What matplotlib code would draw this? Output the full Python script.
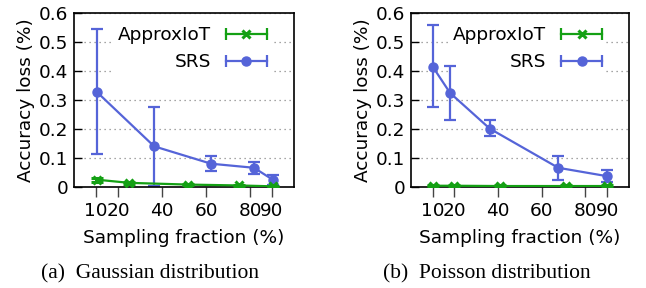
import matplotlib
matplotlib.use("Agg")
import matplotlib.pyplot as plt
from matplotlib.lines import Line2D
from matplotlib.legend_handler import HandlerBase

# Gaussian distribution (left)
gauss_srs_x = [10.3, 36.4, 62.3, 81.8, 90.3]
gauss_srs_y = [0.328, 0.140, 0.080, 0.066, 0.025]
gauss_srs_lo = [0.112, 0.002, 0.054, 0.046, 0.008]
gauss_srs_hi = [0.543, 0.276, 0.108, 0.085, 0.040]

gauss_aiot_x = [10.3, 25.1, 52.0, 75.0, 90.5]
gauss_aiot_y = [0.025, 0.014, 0.008, 0.005, 0.002]
gauss_aiot_lo = [0.018, 0.010, 0.005, 0.003, 0.000]
gauss_aiot_hi = [0.032, 0.018, 0.011, 0.007, 0.004]

# Poisson distribution (right)
pois_srs_x = [10.0, 18.0, 36.2, 67.6, 90.0]
pois_srs_y = [0.415, 0.324, 0.201, 0.066, 0.037]
pois_srs_lo = [0.275, 0.232, 0.175, 0.023, 0.017]
pois_srs_hi = [0.557, 0.416, 0.230, 0.106, 0.057]

pois_aiot_x = [10.0, 20.0, 41.0, 71.0, 89.8]
pois_aiot_y = [0.004, 0.004, 0.003, 0.003, 0.003]
pois_aiot_lo = [0.002, 0.002, 0.001, 0.001, 0.001]
pois_aiot_hi = [0.006, 0.006, 0.005, 0.005, 0.005]

x_ticks = [10, 20, 40, 60, 80, 90]
y_ticks = [0, 0.1, 0.2, 0.3, 0.4, 0.5, 0.6]
captions = ["(a)  Gaussian distribution", "(b)  Poisson distribution"]

GREEN = "#14a014"
BLUE = "#5564d8"
FS = 13.3


class HandlerXErr(HandlerBase):
    """gnuplot-style key: horizontal bar with end caps and a marker."""
    def create_artists(self, legend, orig, xdescent, ydescent, width, height,
                       fontsize, trans):
        y = height / 2 - ydescent
        x0, x1 = -xdescent, width - xdescent
        c = orig.get_color()
        bar = Line2D([x0, x1], [y, y], color=c, lw=1.6)
        caps = Line2D([x0, x1], [y, y], ls="none", marker="|", ms=9, mew=1.6, color=c)
        mark = Line2D([(x0 + x1) / 2], [y], ls="none", marker=orig.get_marker(),
                      ms=orig.get_markersize(), mew=orig.get_markeredgewidth(), color=c)
        for a in (bar, caps, mark):
            a.set_transform(trans)
        return [bar, caps, mark]


def err(y, lo, hi):
    return [[v - l for v, l in zip(y, lo)], [h - v for v, h in zip(y, hi)]]


def draw_panel(ax, srs, aiot):
    ax.errorbar(aiot[0], aiot[1], yerr=err(*aiot[1:]), color=GREEN, lw=1.6,
                marker="x", ms=6, mew=2.2, capsize=4, elinewidth=1.6, capthick=1.6,
                zorder=3)
    ax.errorbar(srs[0], srs[1], yerr=err(*srs[1:]), color=BLUE, lw=1.6,
                marker="o", ms=6.5, capsize=4.5, elinewidth=1.6, capthick=1.6,
                zorder=2)
    ax.set_xlim(0, 100)
    ax.set_ylim(0, 0.6)
    ax.set_xticks(x_ticks)
    ax.set_yticks(y_ticks)
    ax.set_yticklabels(["0", "0.1", "0.2", "0.3", "0.4", "0.5", "0.6"])
    ax.tick_params(axis="x", direction="out", length=7, width=1, color="#444444",
                   labelsize=FS, pad=4)
    ax.tick_params(axis="y", direction="in", length=6, width=1, labelsize=FS, pad=4)
    ax.yaxis.grid(True, linestyle=(0, (1, 3)), color="#888888", lw=0.9)
    ax.set_axisbelow(True)
    for s in ax.spines.values():
        s.set_linewidth(1.2)
    ax.set_xlabel("Sampling fraction (%)", fontsize=FS, labelpad=6)
    ax.set_ylabel("Accuracy loss (%)", fontsize=FS, labelpad=3)

    proxies = [Line2D([], [], color=GREEN, marker="x", ms=6, mew=2.2),
               Line2D([], [], color=BLUE, marker="o", ms=6.5, mew=1)]
    leg = ax.legend(proxies, ["ApproxIoT", "SRS"], loc="upper right",
                    bbox_to_anchor=(0.895, 0.945), markerfirst=False, frameon=True,
                    fontsize=FS, handlelength=2.25, handletextpad=0.8,
                    labelspacing=0.48, borderpad=0.2, borderaxespad=0,
                    handler_map={Line2D: HandlerXErr()})
    leg.get_frame().set_facecolor("white")
    leg.get_frame().set_edgecolor("none")
    leg.get_frame().set_alpha(1)
    leg.get_frame().set_boxstyle("square", pad=0)
    # key box hides the grid but not the data
    leg.set_zorder(1.5)


fig = plt.figure(figsize=(6.46, 2.88), dpi=100)
ax1 = fig.add_axes([0.1146, 0.351, 0.3406, 0.604])
ax2 = fig.add_axes([0.636, 0.351, 0.3375, 0.604])

draw_panel(ax1,
           (gauss_srs_x, gauss_srs_y, gauss_srs_lo, gauss_srs_hi),
           (gauss_aiot_x, gauss_aiot_y, gauss_aiot_lo, gauss_aiot_hi))
draw_panel(ax2,
           (pois_srs_x, pois_srs_y, pois_srs_lo, pois_srs_hi),
           (pois_aiot_x, pois_aiot_y, pois_aiot_lo, pois_aiot_hi))

fig.text(150 / 646, 1 - 274 / 288, captions[0], ha="center", va="center",
         fontsize=15.5, family="Liberation Serif")
fig.text(487 / 646, 1 - 274 / 288, captions[1], ha="center", va="center",
         fontsize=15.5, family="Liberation Serif")

fig.savefig("out.png", dpi=100)
